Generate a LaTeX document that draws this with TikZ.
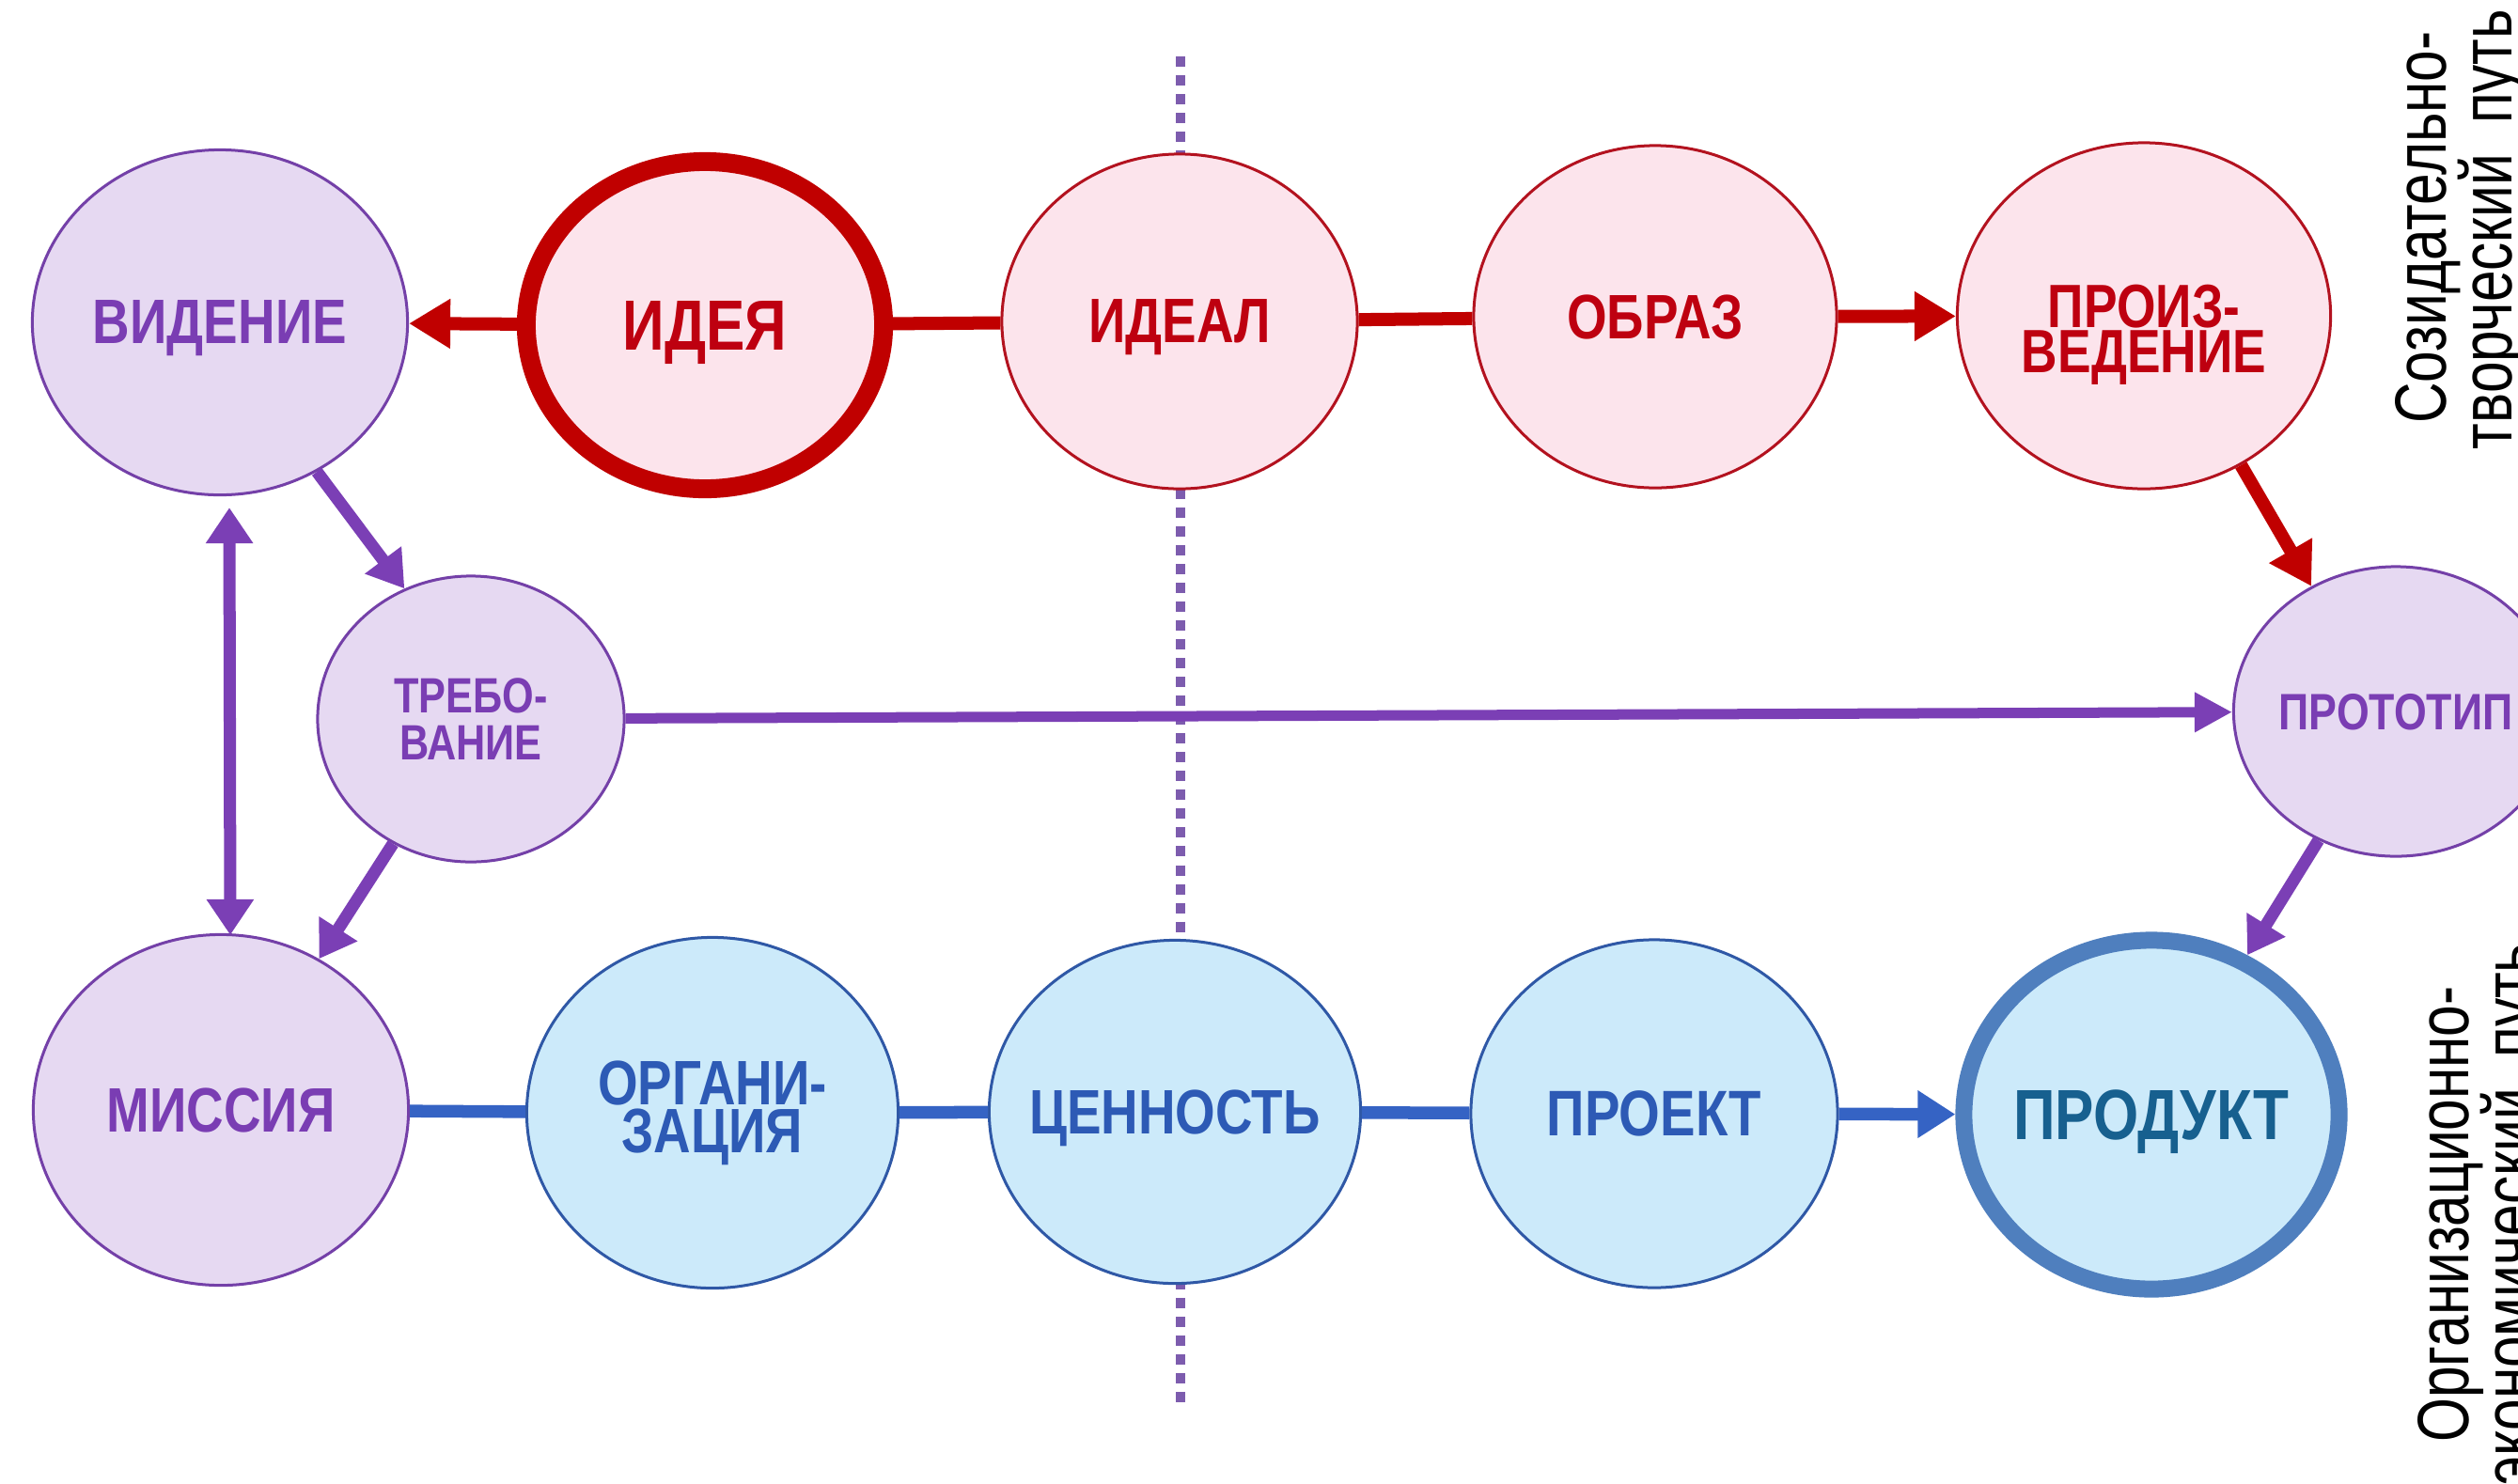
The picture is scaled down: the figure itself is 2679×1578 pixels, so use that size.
\documentclass[tikz,border=0pt]{standalone}
\usepackage{fontspec}
\setmainfont{Liberation Sans}
\newfontfamily\labfont[FakeStretch=0.82]{Liberation Sans}
\newfontfamily\sidefont[FakeStretch=0.78]{Liberation Sans}
\usetikzlibrary{shapes.geometric,arrows.meta,calc}
\definecolor{redL}{HTML}{C00000}
\definecolor{redB}{HTML}{B3121F}
\definecolor{redF}{HTML}{FCE4EC}
\definecolor{redT}{HTML}{BE0010}
\definecolor{purL}{HTML}{7B3FB5}
\definecolor{purB}{HTML}{7440A8}
\definecolor{purF}{HTML}{E6D9F2}
\definecolor{purT}{HTML}{7A3DB3}
\definecolor{bluL}{HTML}{3563C4}
\definecolor{bluB}{HTML}{2F58A6}
\definecolor{bluF}{HTML}{CCEAFA}
\definecolor{bluT}{HTML}{2D5AB5}
\definecolor{prodB}{HTML}{4F7FBE}
\definecolor{prodT}{HTML}{17608F}
\definecolor{dotC}{HTML}{7D5CAE}
\begin{document}
\begin{tikzpicture}[x=0.01cm,y=-0.01cm,
  lab/.style={ellipse, inner xsep=-1cm, inner ysep=0pt, align=center, line width=0.03cm},
  flat/.style={text depth=0pt},
  rn/.style={lab, draw=redB, fill=redF, text=redT},
  pn/.style={lab, draw=purB, fill=purF, text=purT},
  bn/.style={lab, draw=bluB, fill=bluF, text=bluT},
  sz/.style 2 args={minimum width=#1cm, minimum height=#2cm},
  fs/.style 2 args={font=\labfont\bfseries\fontsize{#1}{#2}\selectfont},
  redcon/.style={draw=redL, line width=0.14cm},
  redarr/.style={redcon, -{Triangle[length=0.44cm,width=0.5cm]}},
  purarr/.style={draw=purL, line width=0.13cm, -{Triangle[length=0.38cm,width=0.46cm]}},
  bluecon/.style={draw=bluL, line width=0.135cm},
  bluearr/.style={bluecon, -{Triangle[length=0.4cm,width=0.48cm]}},
  dotline/.style={draw=dotC, line width=0.1cm, dash pattern=on 0.11cm off 0.09cm},
  sidetext/.style={rotate=90, anchor=base, font=\sidefont\fontsize{22}{26}\selectfont, text=black}
]
\path[use as bounding box] (0,0) rectangle (2679,1578);
\coordinate (dtop) at (1256,60);
\coordinate (dbot) at (1256,1495);
\draw[dotline] (dtop) -- (dbot);

% top row
\node[pn, flat, sz={3.99}{3.67}, fs={19}{15}] (vid) at (234,343) {ВИДЕНИЕ};
\node[rn, flat, sz={3.80}{3.48}, fs={21.5}{18}, line width=0.2cm, draw=redL] (ideya) at (750,346) {ИДЕЯ};
\node[rn, flat, sz={3.78}{3.56}, fs={19}{15}] (ideal) at (1255,342) {ИДЕАЛ};
\node[rn, flat, sz={3.86}{3.64}, fs={19}{15}] (obraz) at (1761,337) {ОБРАЗ};
\node[rn, flat, text height=34.5pt, sz={3.97}{3.68}, fs={18.5}{13.7}] (proiz) at (2281,336) {ПРОИЗ-\\ВЕДЕНИЕ};
% middle row
\node[pn, sz={3.26}{3.04}, fs={15}{14}] (treb) at (501,765) {ТРЕБО-\\ВАНИЕ};
\node[pn, flat, sz={3.45}{3.08}, fs={15.5}{14}] (proto) at (2549,757) {ПРОТОТИП};
% bottom row
\node[pn, flat, sz={3.99}{3.73}, fs={19}{15}] (mis) at (235,1181) {МИССИЯ};
\node[bn, sz={3.95}{3.73}, fs={19}{14.5}] (org) at (758,1184) {ОРГАНИ-\\ЗАЦИЯ};
\node[bn, flat, sz={3.95}{3.65}, fs={19}{15}] (cen) at (1250,1183) {ЦЕННОСТЬ};
\node[bn, flat, sz={3.90}{3.70}, fs={19.5}{15}] (proekt) at (1760,1185) {ПРОЕКТ};
\node[bn, flat, sz={3.99}{3.71}, fs={21.5}{18}, line width=0.18cm, draw=prodB, text=prodT] (produkt) at (2289,1186) {ПРОДУКТ};

% connectors
\draw[redarr] (ideya) -- (vid);
\draw[redcon] (ideya) -- (ideal);
\draw[redcon] (ideal) -- (obraz);
\draw[redarr] (obraz) -- (proiz);
\draw[redarr] (proiz.-57) -- (proto.124);
\draw[purarr] (vid.-57) -- (treb.117);
\draw[purarr] (treb.238) -- (mis.57);
\draw[purarr, {Triangle[length=0.38cm,width=0.48cm]}-{Triangle[length=0.38cm,width=0.48cm]}] ($(vid.south)+(10,12)$) -- ($(mis.north)+(10,2)$);
\draw[purarr, line width=0.11cm, -{Triangle[length=0.4cm,width=0.4cm]}] (treb) -- (proto);
\draw[purarr] (proto.239) -- (produkt.59);
\draw[bluecon] (mis) -- (org);
\draw[bluecon] (org) -- (cen);
\draw[bluecon] (cen) -- (proekt);
\draw[bluearr] (proekt) -- (produkt);

% side captions
\node[sidetext] (s1a) at (2602,242) {Созидательно-};
\node[sidetext] (s1b) at (2672,244) {творческий\hspace{0.2em} путь};
\node[sidetext] (s2a) at (2626,1292) {Организационно-};
\node[sidetext] (s2b) at (2696,1292) {экономический\hspace{0.2em} путь};
\end{tikzpicture}
\end{document}
